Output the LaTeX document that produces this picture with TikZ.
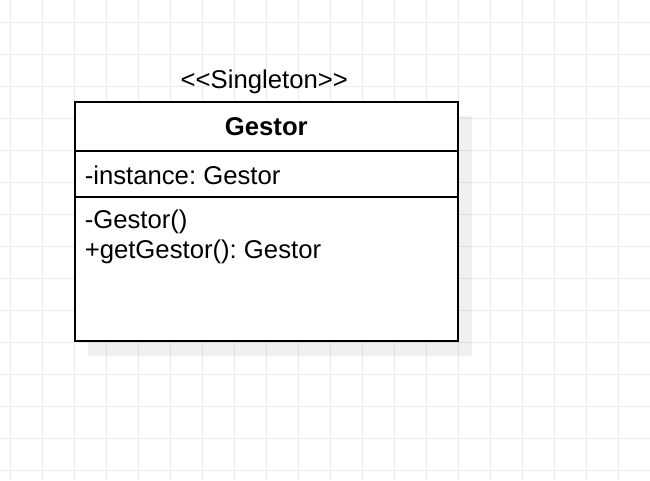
\documentclass[tikz,border=0pt]{standalone}
\usepackage{fontspec}
\setmainfont[Ligatures=TeXOff]{Liberation Sans}
\usetikzlibrary{positioning}
\frenchspacing

\tikzset{
  compartment/.style={draw, line width=2pt, fill=white, minimum width=383.5pt, inner sep=0pt, outer sep=0pt},
  member/.style={anchor=north west, inner sep=0pt, align=left},
}

\begin{document}
\begin{tikzpicture}[x=1pt, y=-1pt, font=\fontsize{25.7}{30}\selectfont]
  \useasboundingbox (0,0) rectangle (650,480);
  %Grid
  \foreach \x in {10,42,...,650}
    \draw[black!8, line width=1pt] (\x,0) -- (\x,480);
  \foreach \y in {22,54,...,480}
    \draw[black!8, line width=1pt] (0,\y) -- (650,\y);

  %Shadow
  \fill[black, opacity=0.06] (88,116) rectangle (472,356);

  %Class
  \node[compartment, minimum height=49pt, font=\fontsize{25.7}{30}\selectfont\bfseries] (Header) at (266.3,126.5) {Gestor};
  \node[compartment, minimum height=46pt, anchor=north] (Attributes) at (Header.south) {};
  \node[compartment, minimum height=144pt, anchor=north] (Methods) at (Attributes.south) {};

  \node[above=8pt of Header, xshift=-2pt, inner sep=0pt] (Stereotype) {<<Singleton>>};
  \node[anchor=west, inner sep=0pt] (Instance) at ([xshift=10pt, yshift=-1pt]Attributes.west) {-instance: Gestor};
  \node[member] (Operations) at ([xshift=10pt, yshift=-12.5pt]Methods.north west) {-Gestor()\\+getGestor(): Gestor};
\end{tikzpicture}
\end{document}
